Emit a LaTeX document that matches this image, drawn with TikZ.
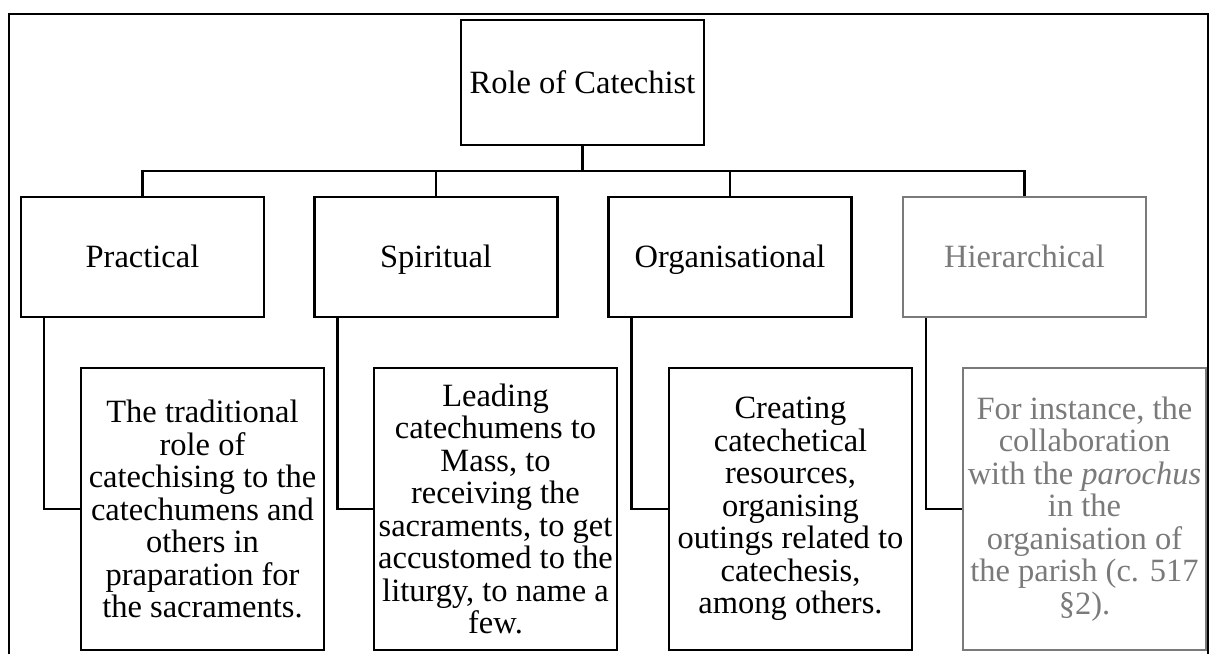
\documentclass[tikz,border=0pt]{standalone}
\usepackage{fontspec}
\setmainfont{Liberation Serif}
\definecolor{hgray}{RGB}{122,122,122}
\begin{document}
\begin{tikzpicture}[x=1pt,y=-1pt,
  box/.style={draw=black,line width=2.1pt,rectangle,minimum width=243pt,inner sep=0pt,align=center,
    font=\fontsize{32.5}{32.5}\selectfont},
  onel/.style={text height=22pt,text depth=1pt},
  topbox/.style={box,onel,minimum height=125pt},
  midbox/.style={box,onel,minimum height=120pt},
  lowbox/.style={box,minimum height=282pt},
  greybox/.style={draw=hgray,text=hgray},
  conn/.style={draw=black,line width=2.1pt}]
\useasboundingbox (0,0) rectangle (1211,654);
\draw[line width=2.1pt] (9,654) -- (9,14) -- (1208,14) -- (1208,654);
\node[topbox] (root) at (582.5,82.5) {Role of Catechist};
\node[midbox] (prac) at (142.5,257) {Practical};
\node[midbox] (spir) at (436,257) {Spiritual};
\node[midbox] (orga) at (730,257) {Organisational};
\node[midbox,greybox] (hier) at (1024.5,257) {Hierarchical};
\node[lowbox] (prac3) at (202.5,509) {The traditional\\ role of\\ catechising to the\\ catechumens and\\ others in\\ praparation for\\ the sacraments.};
\node[lowbox] (spir3) at (495.5,509) {Leading\\ catechumens to\\ Mass, to\\ receiving the\\ sacraments, to get\\ accustomed to the\\ liturgy, to name a\\ few.};
\node[lowbox] (orga3) at (790.5,509) {Creating\\ catechetical\\ resources,\\ organising\\ outings related to\\ catechesis,\\ among others.};
\node[lowbox,greybox] (hier3) at (1084.5,509) {For instance, the\\ collaboration\\ with the \textit{parochus}\\ in the\\ organisation of\\ the parish (c. 517\\ §2).};
\coordinate (bus) at (582.5,171);
\draw[conn] (root.south) -- (bus);
\draw[conn] (prac.north) |- (bus) -| (hier.north);
\draw[conn] (spir.north) -- (spir.north |- bus);
\draw[conn] (orga.north) -- (orga.north |- bus);
\draw[conn] ([xshift=24pt]prac.south west) |- (prac3.west);
\draw[conn] ([xshift=24pt]spir.south west) |- (spir3.west);
\draw[conn] ([xshift=24pt]orga.south west) |- (orga3.west);
\draw[conn] ([xshift=24pt]hier.south west) |- (hier3.west);
\end{tikzpicture}
\end{document}
